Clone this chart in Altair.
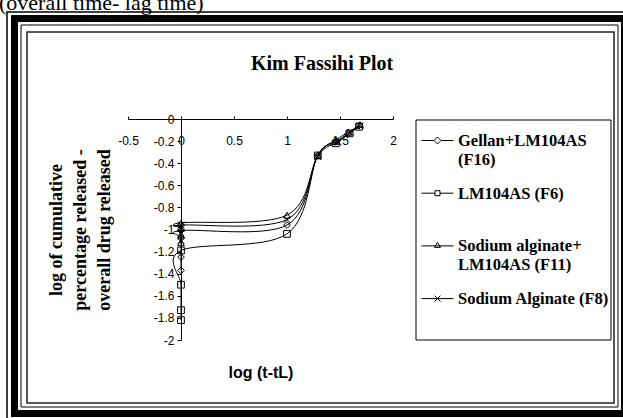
import altair as alt
import pandas as pd

# ---------------- data ----------------
SERIES = [
    "Gellan+LM104AS (F16)",
    "LM104AS (F6)",
    "Sodium alginate+LM104AS (F11)",
    "Sodium Alginate (F8)",
]
LEGEND_LABEL_LINES = [
    ["Gellan+LM104AS", "(F16)"],
    ["LM104AS (F6)"],
    ["Sodium alginate+", "LM104AS (F11)"],
    ["Sodium Alginate (F8)"],
]

F16_X = [0, 0, 0, 0, 1.00, 1.29, 1.47, 1.57, 1.68]
F16_Y = [-1.37, -1.25, -1.08, -1.01, -0.96, -0.33, -0.20, -0.14, -0.06]
F6_X = [0, 0, 0, 0, 1.00, 1.29, 1.46, 1.59, 1.68]
F6_Y = [-1.82, -1.73, -1.50, -1.19, -1.04, -0.33, -0.22, -0.13, -0.07]
F11_X = [0, 0, 0, 0, 1.00, 1.29, 1.46, 1.58, 1.69]
F11_Y = [-1.12, -1.05, -0.99, -0.94, -0.87, -0.33, -0.19, -0.12, -0.05]
F8_X = [0, 0, 0, 0, 1.00, 1.29, 1.48, 1.60, 1.69]
F8_Y = [-1.10, -1.03, -0.98, -0.96, -0.91, -0.34, -0.21, -0.12, -0.06]

X_TICKS = [-0.5, 0, 0.5, 1, 1.5, 2]
Y_TICKS = [0, -0.2, -0.4, -0.6, -0.8, -1, -1.2, -1.4, -1.6, -1.8, -2]

TITLE = "Kim Fassihi Plot"
X_TITLE = "log (t-tL)"
Y_TITLE = ["log of cumulative", "percentage released -", "overall drug released"]
PAGE_TEXT = "(overall time- lag time)"

rows = []
for name, xs, ys in zip(SERIES, [F16_X, F6_X, F11_X, F8_X], [F16_Y, F6_Y, F11_Y, F8_Y]):
    for i, (xv, yv) in enumerate(zip(xs, ys)):
        rows.append({"series": name, "idx": i, "x": xv, "y": yv})
df = pd.DataFrame(rows)

# ---------------- layout ----------------
W, H = 265, 221
PL, PT = 128, 119
PR, PB = 623 - PL - W, 418 - PT - H


def px(ax):
    return ax - PL


def py(ay):
    return ay - PT


MINUS_FIX = "replace(format(datum.value, '~g'), '\u2212', '-')"

x_enc = alt.X(
    "x:Q",
    scale=alt.Scale(domain=[-0.5, 2], nice=False, zero=False),
    axis=alt.Axis(
        orient="top", values=X_TICKS, labelExpr=MINUS_FIX, grid=False,
        domainColor="black", domainWidth=1, tickColor="black", tickWidth=1, tickSize=3,
        labelPadding=-24, labelBaseline="middle", labelFlush=False, labelOverlap=False,
        labelFont="Liberation Sans", labelFontSize=12, labelColor="black",
        title=X_TITLE, titleFont="Liberation Sans", titleFontSize=16, titleFontWeight="bold",
        titleColor="black", titleX=W / 2, titleY=253, titleBaseline="middle", titleAlign="center",
    ),
)
y_enc = alt.Y(
    "y:Q",
    scale=alt.Scale(domain=[-2, 0], nice=False, zero=False),
    axis=alt.Axis(
        values=Y_TICKS, labelExpr=MINUS_FIX, grid=False, offset=-53,
        domainColor="black", domainWidth=1, tickColor="black", tickWidth=1, tickSize=4,
        labelPadding=3, labelFlush=False, labelOverlap=False,
        labelFont="Liberation Sans", labelFontSize=12, labelColor="black",
        title=Y_TITLE, titleFont="Liberation Serif", titleFontSize=18, titleFontWeight="bold",
        titleColor="black", titleX=-125, titleY=H / 2, titleAngle=270, titleAlign="center",
        titleBaseline="middle", titleLineHeight=24,
    ),
)

# legend symbol paths (line + marker); the unit box spans one entry's height
S = 47.0
U = S / 2
DX = S / 2 - 20
DY = -5.5


def p(x, y):
    return f"{(x + DX) / U:.3f},{(y + DY) / U:.3f}"


BOUND = "M0,-1M0,1"
LEGEND_SHAPES = [
    BOUND + f"M{p(-16,0)}L{p(-3.5,0)}M{p(3.5,0)}L{p(16,0)}M{p(0,-3.5)}L{p(3.5,0)}L{p(0,3.5)}L{p(-3.5,0)}Z",
    BOUND + f"M{p(-16,0)}L{p(-2.5,0)}M{p(2.5,0)}L{p(16,0)}M{p(-2.5,-2.5)}L{p(2.5,-2.5)}L{p(2.5,2.5)}L{p(-2.5,2.5)}Z",
    BOUND + f"M{p(-16,0)}L{p(16,0)}M{p(-3,1.5)}L{p(3,1.5)}L{p(0,-3.5)}Z",
    BOUND + f"M{p(-16,0)}L{p(16,0)}M{p(-3,-3)}L{p(3,3)}M{p(-3,3)}L{p(3,-3)}",
]
PLOT_SHAPES = ["diamond", "square", "triangle-up", "M-1,-1L1,1M-1,1L1,-1"]

parts = []
for name, lines in zip(SERIES, LEGEND_LABEL_LINES):
    arr = "[" + ",".join("'" + l + "'" for l in lines) + "]"
    parts.append(f"datum.label == '{name}' ? {arr} : ")
LEGEND_EXPR = "".join(parts) + "datum.label"

one = alt.Data(values=[{"k": 0}])


def frame(x1, y1, x2, y2, sw, color="black"):
    return alt.Chart(one).mark_rect(filled=False, color=color, strokeWidth=sw).encode(
        x=alt.value(px(x1)), x2=alt.value(px(x2)), y=alt.value(py(y1)), y2=alt.value(py(y2))
    )


frames = [
    frame(7, 12, 640, 430, 1.5),
    frame(14.5, 18.5, 624.5, 413.5, 7),
    frame(21, 25, 618, 407, 1),
    frame(27, 32, 614, 403, 1.5, "#222222"),
    frame(416, 120, 611, 340, 1),
]

lines = alt.Chart(df).mark_line(interpolate="cardinal", color="black", strokeWidth=1).encode(
    x=x_enc, y=y_enc, detail="series:N", order="idx:Q"
)
points = alt.Chart(df).mark_point(filled=False, color="black", strokeWidth=1, size=45, opacity=1).encode(
    x=x_enc, y=y_enc,
    shape=alt.Shape("series:N", scale=alt.Scale(domain=SERIES, range=PLOT_SHAPES), legend=None),
)
legend_layer = alt.Chart(df).mark_point(filled=False, color="black", opacity=0).encode(
    x=x_enc, y=y_enc,
    shape=alt.Shape(
        "series:N",
        scale=alt.Scale(domain=SERIES, range=LEGEND_SHAPES),
        legend=alt.Legend(
            orient="none", legendX=282, legendY=3, title=None, padding=0, rowPadding=0.7,
            symbolSize=S * S, symbolStrokeWidth=1, symbolStrokeColor="black",
            symbolFillColor="transparent", symbolOpacity=1,
            labelFont="Liberation Serif", labelFontSize=16.5, labelFontWeight="bold",
            labelColor="black", labelBaseline="alphabetic", labelOffset=0, labelLimit=400,
            labelExpr=LEGEND_EXPR,
        ),
    ),
)

title_text = alt.Chart(one).mark_text(
    text=TITLE, font="Liberation Serif", fontSize=20, fontWeight="bold", color="black",
    align="center", baseline="alphabetic",
).encode(x=alt.value(px(322)), y=alt.value(py(70)))

page_text = alt.Chart(one).mark_text(
    text=PAGE_TEXT, font="Liberation Serif", fontSize=22, color="black",
    align="left", baseline="alphabetic",
).encode(x=alt.value(px(-1)), y=alt.value(py(10)))

chart = alt.layer(
    *frames, lines, points, legend_layer, title_text, page_text
).resolve_scale(shape="independent").properties(
    width=W, height=H,
    padding={"left": PL, "top": PT, "right": PR, "bottom": PB},
    autosize=alt.AutoSizeParams(type="none"),
    background="white",
).configure_view(strokeWidth=0)

chart.save("out.html", embed_options={"renderer": "svg", "actions": False})
